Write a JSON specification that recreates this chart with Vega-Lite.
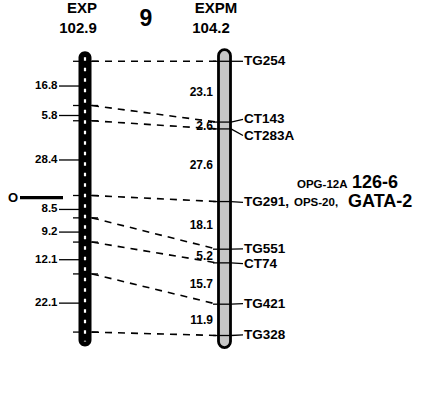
{
  "$schema": "https://vega.github.io/schema/vega-lite/v6.json",
  "autosize": {"type": "fit", "contains": "padding"},
  "width": 438,
  "height": 399,
  "padding": 0,
  "background": "white",
  "config": {"view": {"stroke": null}, "text": {"font": "Liberation Sans", "fontWeight": "bold", "color": "black"}},
  "datasets": {
    "links": [
      {"left": 0, "right": 0},
      {"left": 16.8, "right": 23.1},
      {"left": 22.6, "right": 25.7},
      {"left": 51.0, "right": 53.3},
      {"left": 59.5, "right": 71.4},
      {"left": 68.7, "right": 76.6},
      {"left": 80.8, "right": 92.3},
      {"left": 102.9, "right": 104.2}
    ],
    "rightMarkers": [
      {"marker": "TG254", "cM": 0, "labelcM": 0},
      {"marker": "CT143", "cM": 23.1, "labelcM": 22.1},
      {"marker": "CT283A", "cM": 25.7, "labelcM": 28.2},
      {"marker": "TG291,", "cM": 53.3, "labelcM": 53.6},
      {"marker": "TG551", "cM": 71.4, "labelcM": 71.3},
      {"marker": "CT74", "cM": 76.6, "labelcM": 76.9},
      {"marker": "TG421", "cM": 92.3, "labelcM": 92.1},
      {"marker": "TG328", "cM": 104.2, "labelcM": 104.0}
    ],
    "leftIntervals": [
      {"label": "16.8", "cM": 9.4},
      {"label": "5.8", "cM": 20.6},
      {"label": "28.4", "cM": 37.5},
      {"label": "8.5", "cM": 56.3},
      {"label": "9.2", "cM": 64.9},
      {"label": "12.1", "cM": 75.4},
      {"label": "22.1", "cM": 91.9}
    ],
    "rightIntervals": [
      {"label": "23.1", "cM": 11.55},
      {"label": "2.6", "cM": 24.4},
      {"label": "27.6", "cM": 39.5},
      {"label": "18.1", "cM": 62.35},
      {"label": "5.2", "cM": 74.0},
      {"label": "15.7", "cM": 84.45},
      {"label": "11.9", "cM": 98.25}
    ]
  },
  "layer": [
    {
      "data": {"name": "links"},
      "mark": {"type": "rule", "strokeDash": [7, 6], "strokeWidth": 1.6, "color": "black"},
      "encoding": {
        "x": {"datum": 92, "type": "quantitative", "scale": {"domain": [0, 438], "nice": false, "zero": false}, "axis": null},
        "x2": {"datum": 217},
        "y": {"field": "left", "type": "quantitative", "scale": {"domain": [-21.39, 128.33], "reverse": true, "nice": false, "zero": false}, "axis": null},
        "y2": {"field": "right"}
      }
    },
    {
      "data": {"name": "links"},
      "mark": {"type": "rule", "strokeWidth": 1.3, "color": "black"},
      "encoding": {
        "x": {"datum": 73, "type": "quantitative", "axis": null},
        "x2": {"datum": 98},
        "y": {"field": "left", "type": "quantitative", "axis": null}
      }
    },
    {
      "data": {"values": [{"chrom": "EXP", "start": -3.8, "end": 108.4}]},
      "mark": {"type": "bar", "color": "black", "cornerRadius": 6.5},
      "encoding": {
        "x": {"datum": 78.5, "type": "quantitative", "axis": null},
        "x2": {"datum": 91.5},
        "y": {"field": "start", "type": "quantitative", "axis": null},
        "y2": {"field": "end"}
      }
    },
    {
      "data": {"values": [{"chrom": "EXP", "start": -1.5, "end": 106.5}]},
      "mark": {"type": "rule", "color": "white", "strokeWidth": 2.2, "strokeDash": [3.5, 7]},
      "encoding": {
        "x": {"datum": 85, "type": "quantitative", "axis": null},
        "y": {"field": "start", "type": "quantitative", "axis": null},
        "y2": {"field": "end"}
      }
    },
    {
      "data": {"values": [{"chrom": "EXPM", "start": -4.4, "end": 108.8}]},
      "mark": {"type": "bar", "color": "#c6c6c6", "stroke": "black", "strokeWidth": 2.8, "cornerRadius": 6},
      "encoding": {
        "x": {"datum": 218.5, "type": "quantitative", "axis": null},
        "x2": {"datum": 230.5},
        "y": {"field": "start", "type": "quantitative", "axis": null},
        "y2": {"field": "end"}
      }
    },
    {
      "data": {"name": "rightMarkers"},
      "mark": {"type": "rule", "strokeWidth": 1.3, "color": "black"},
      "encoding": {
        "x": {"datum": 213, "type": "quantitative", "axis": null},
        "x2": {"datum": 231},
        "y": {"field": "cM", "type": "quantitative", "axis": null}
      }
    },
    {
      "data": {"name": "rightMarkers"},
      "mark": {"type": "rule", "strokeWidth": 1.3, "color": "black"},
      "encoding": {
        "x": {"datum": 231, "type": "quantitative", "axis": null},
        "x2": {"datum": 243},
        "y": {"field": "cM", "type": "quantitative", "axis": null},
        "y2": {"field": "labelcM"}
      }
    },
    {
      "data": {"name": "rightMarkers"},
      "mark": {"type": "text", "align": "left", "baseline": "middle", "fontSize": 13.5},
      "encoding": {
        "x": {"datum": 244, "type": "quantitative", "axis": null},
        "y": {"field": "labelcM", "type": "quantitative", "axis": null},
        "text": {"field": "marker"}
      }
    },
    {
      "data": {"name": "leftIntervals"},
      "mark": {"type": "rule", "strokeWidth": 1.3, "color": "black"},
      "encoding": {
        "x": {"datum": 59, "type": "quantitative", "axis": null},
        "x2": {"datum": 79},
        "y": {"field": "cM", "type": "quantitative", "axis": null}
      }
    },
    {
      "data": {"name": "leftIntervals"},
      "mark": {"type": "text", "align": "right", "baseline": "middle", "fontSize": 11.5},
      "encoding": {
        "x": {"datum": 57.5, "type": "quantitative", "axis": null},
        "y": {"field": "cM", "type": "quantitative", "axis": null},
        "text": {"field": "label"}
      }
    },
    {
      "data": {"name": "rightIntervals"},
      "mark": {"type": "text", "align": "right", "baseline": "middle", "fontSize": 12},
      "encoding": {
        "x": {"datum": 213, "type": "quantitative", "axis": null},
        "y": {"field": "cM", "type": "quantitative", "axis": null},
        "text": {"field": "label"}
      }
    },
    {
      "data": {"values": [{"label": "O", "cM": 51.8}]},
      "mark": {"type": "text", "align": "center", "baseline": "middle", "fontSize": 13},
      "encoding": {
        "x": {"datum": 13, "type": "quantitative", "axis": null},
        "y": {"field": "cM", "type": "quantitative", "axis": null},
        "text": {"field": "label"}
      }
    },
    {
      "data": {"values": [{"label": "O", "cM": 51.8}]},
      "mark": {"type": "rule", "strokeWidth": 3.2, "color": "black"},
      "encoding": {
        "x": {"datum": 20, "type": "quantitative", "axis": null},
        "x2": {"datum": 63},
        "y": {"field": "cM", "type": "quantitative", "axis": null}
      }
    },
    {
      "data": {"values": [{"label": "OPG-12A", "cM": 53.3}]},
      "mark": {"type": "text", "align": "left", "baseline": "middle", "fontSize": 11.5, "dy": -17},
      "encoding": {
        "x": {"datum": 297, "type": "quantitative", "axis": null},
        "y": {"field": "cM", "type": "quantitative", "axis": null},
        "text": {"field": "label"}
      }
    },
    {
      "data": {"values": [{"label": "OPS-20,", "cM": 53.3}]},
      "mark": {"type": "text", "align": "left", "baseline": "middle", "fontSize": 11.5, "dy": 1},
      "encoding": {
        "x": {"datum": 294, "type": "quantitative", "axis": null},
        "y": {"field": "cM", "type": "quantitative", "axis": null},
        "text": {"field": "label"}
      }
    },
    {
      "data": {"values": [{"label": "126-6", "cM": 53.3}]},
      "mark": {"type": "text", "align": "left", "baseline": "middle", "fontSize": 18, "dy": -19},
      "encoding": {
        "x": {"datum": 352, "type": "quantitative", "axis": null},
        "y": {"field": "cM", "type": "quantitative", "axis": null},
        "text": {"field": "label"}
      }
    },
    {
      "data": {"values": [{"label": "GATA-2", "cM": 53.3}]},
      "mark": {"type": "text", "align": "left", "baseline": "middle", "fontSize": 18, "dy": 0},
      "encoding": {
        "x": {"datum": 348, "type": "quantitative", "axis": null},
        "y": {"field": "cM", "type": "quantitative", "axis": null},
        "text": {"field": "label"}
      }
    },
    {
      "data": {"values": [{"label": "EXP", "cM": -18.39}]},
      "mark": {"type": "text", "align": "center", "baseline": "alphabetic", "fontSize": 15},
      "encoding": {
        "x": {"datum": 82, "type": "quantitative", "axis": null},
        "y": {"field": "cM", "type": "quantitative", "axis": null},
        "text": {"field": "label"}
      }
    },
    {
      "data": {"values": [{"label": "EXPM", "cM": -18.39}]},
      "mark": {"type": "text", "align": "center", "baseline": "alphabetic", "fontSize": 15},
      "encoding": {
        "x": {"datum": 216, "type": "quantitative", "axis": null},
        "y": {"field": "cM", "type": "quantitative", "axis": null},
        "text": {"field": "label"}
      }
    },
    {
      "data": {"values": [{"label": "102.9", "cM": -10.88}]},
      "mark": {"type": "text", "align": "center", "baseline": "alphabetic", "fontSize": 15},
      "encoding": {
        "x": {"datum": 78, "type": "quantitative", "axis": null},
        "y": {"field": "cM", "type": "quantitative", "axis": null},
        "text": {"field": "label"}
      }
    },
    {
      "data": {"values": [{"label": "104.2", "cM": -10.88}]},
      "mark": {"type": "text", "align": "center", "baseline": "alphabetic", "fontSize": 15},
      "encoding": {
        "x": {"datum": 211, "type": "quantitative", "axis": null},
        "y": {"field": "cM", "type": "quantitative", "axis": null},
        "text": {"field": "label"}
      }
    },
    {
      "data": {"values": [{"label": "9", "cM": -13.5}]},
      "mark": {"type": "text", "align": "center", "baseline": "alphabetic", "fontSize": 23},
      "encoding": {
        "x": {"datum": 146, "type": "quantitative", "axis": null},
        "y": {"field": "cM", "type": "quantitative", "axis": null},
        "text": {"field": "label"}
      }
    }
  ]
}
